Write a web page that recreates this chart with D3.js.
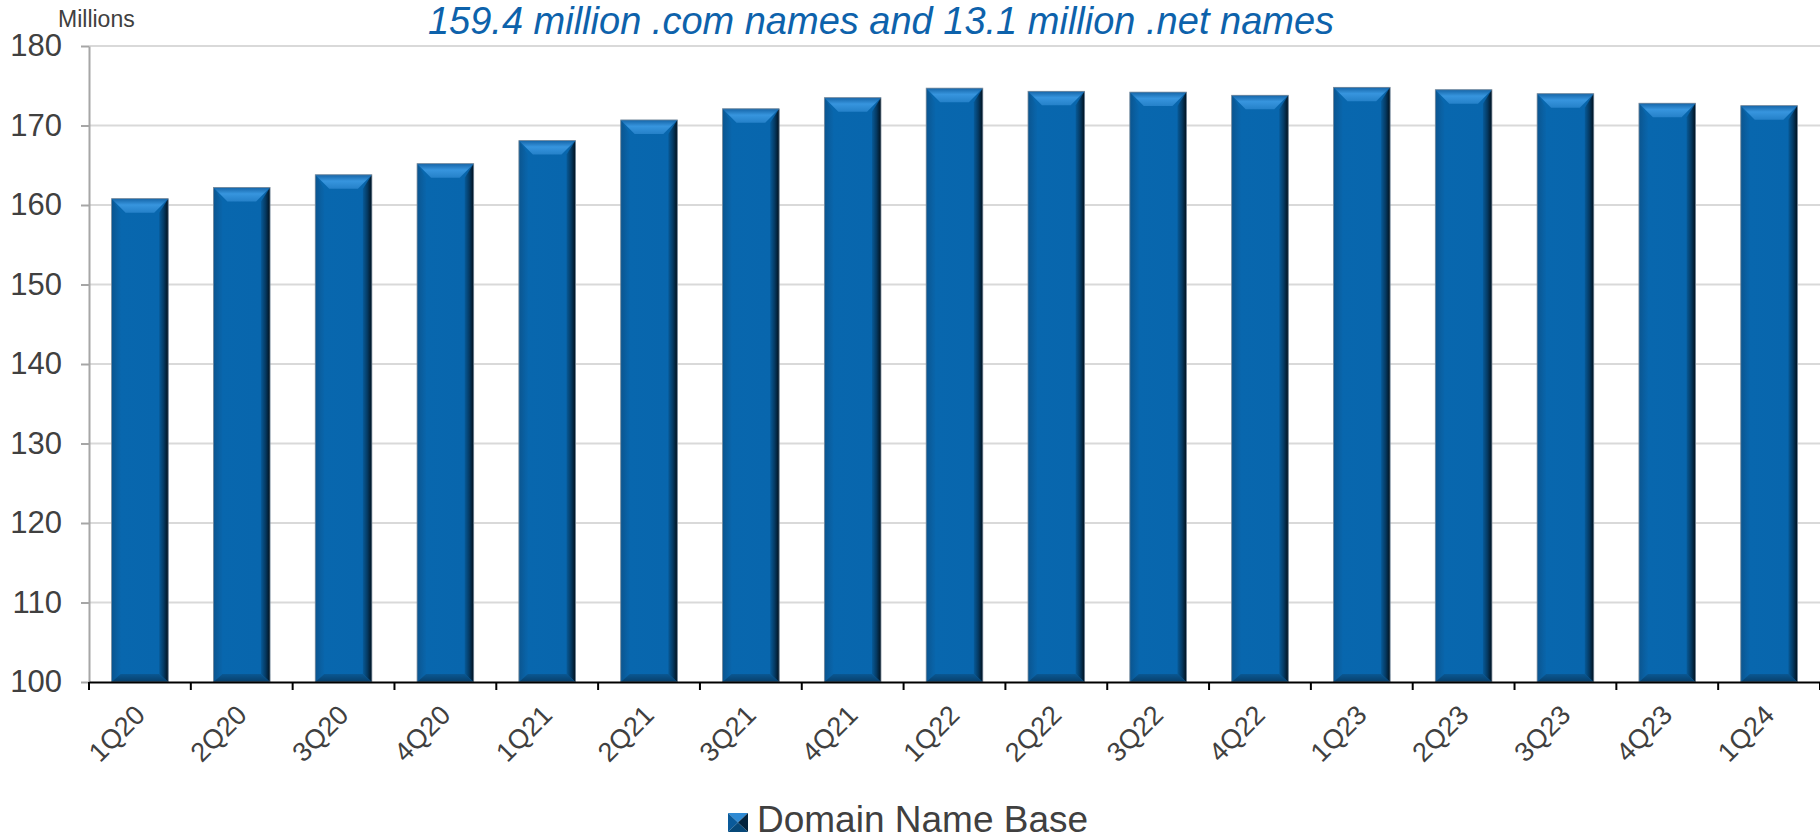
<!DOCTYPE html>
<html><head><meta charset="utf-8">
<script src="https://cdn.jsdelivr.net/npm/d3@7"></script>
<style>
html,body{margin:0;padding:0;background:#fff;overflow:hidden}
svg{display:block;font-family:"Liberation Sans",Arial,sans-serif}
</style></head>
<body><svg id="c" width="1820" height="840"></svg>
<script>
const categories = ["1Q20","2Q20","3Q20","4Q20","1Q21","2Q21","3Q21","4Q21","1Q22","2Q22","3Q22","4Q22","1Q23","2Q23","3Q23","4Q23","1Q24"];
const values = [160.8,162.2,163.8,165.2,168.1,170.7,172.1,173.5,174.7,174.3,174.2,173.8,174.8,174.5,174.0,172.8,172.5];
const yTicks = [100,110,120,130,140,150,160,170,180];
const seriesName = "Domain Name Base";
const titleText = "159.4 million .com names and 13.1 million .net names";
const unitText = "Millions";

const svg = d3.select("#c");
const defs = svg.append("defs");
function lg(id, x2, y2, stops){
  const g = defs.append("linearGradient").attr("id",id).attr("x1",0).attr("y1",0).attr("x2",x2).attr("y2",y2);
  stops.forEach(s=>g.append("stop").attr("offset",s[0]).attr("stop-color",s[1]));
}
lg("face",1,0,[[0,"#0a5e9f"],[0.12,"#0867ae"],[0.85,"#0866ad"],[1,"#07599a"]]);
lg("topB",0,1,[[0,"#1565a8"],[0.45,"#3795de"],[1,"#2581c9"]]);
lg("rightB",1,0,[[0,"#075a98"],[0.5,"#053a63"],[1,"#01101c"]]);
lg("leftB",1,0,[[0,"#0b4f85"],[1,"#0a64a9"]]);
lg("botB",0,1,[[0,"#0a5893"],[1,"#083f6a"]]);

const x = d3.scaleBand().domain(categories).range([89,1820]).paddingInner(0.444).paddingOuter(0.222);
const y = d3.scaleLinear().domain([100,180]).range([682,46]);

// gridlines
svg.append("g").selectAll("line").data(yTicks.filter(t=>t>100)).join("line")
  .attr("x1",89).attr("x2",1820).attr("y1",d=>y(d)).attr("y2",d=>y(d))
  .attr("stroke","#d9d9d9").attr("stroke-width",2);

// title
svg.append("text").attr("x",881).attr("y",34).attr("text-anchor","middle")
  .attr("font-size",38).attr("font-style","italic").attr("fill","#0d62ab").text(titleText);
svg.append("text").attr("x",58).attr("y",27).attr("font-size",23).attr("fill","#404040").text(unitText);

// bars
const bw = x.bandwidth();
const bars = svg.append("g").selectAll("g").data(categories.map((c,i)=>({c,v:values[i]}))).join("g");
bars.each(function(d){
  const g = d3.select(this);
  const x0 = x(d.c), x1 = x0 + bw, y0 = y(d.v), y1 = y(100);
  const bt = 14, bs = 9, bb = 8;
  g.append("rect").attr("x",x0).attr("y",y0).attr("width",bw).attr("height",y1-y0).attr("fill","url(#face)");
  g.append("polygon").attr("points",[[x0,y0],[x0+bs,y0+bt],[x0+bs,y1-bb],[x0,y1]].join(" ")).attr("fill","url(#leftB)").attr("opacity",0.6);
  g.append("polygon").attr("points",[[x1,y0],[x1-bs,y0+bt],[x1-bs,y1-bb],[x1,y1]].join(" ")).attr("fill","url(#rightB)");
  g.append("polygon").attr("points",[[x0,y1],[x0+bs,y1-bb],[x1-bs,y1-bb],[x1,y1]].join(" ")).attr("fill","url(#botB)");
  g.append("polygon").attr("points",[[x0,y0],[x1,y0],[x1-bt,y0+bt],[x0+bt,y0+bt]].join(" ")).attr("fill","url(#topB)");
  g.append("rect").attr("x",x0).attr("y",y0).attr("width",bw).attr("height",y1-y0).attr("fill","none").attr("stroke","#7d8c9b").attr("stroke-width",0.8);
});

// y axis
const ya = svg.append("g").attr("transform","translate(89,0)")
  .call(d3.axisLeft(y).tickValues(yTicks).tickSize(8).tickPadding(19).tickSizeOuter(0));
ya.select(".domain").attr("stroke","#a6a6a6").attr("stroke-width",2);
ya.selectAll(".tick line").attr("stroke","#a6a6a6").attr("stroke-width",2);
ya.selectAll(".tick text").attr("font-size",31).attr("fill","#404040").attr("font-family","Liberation Sans, Arial, sans-serif");

// x axis
const xa = svg.append("g").attr("transform","translate(0,682)")
  .call(d3.axisBottom(x).tickSize(0).tickPadding(0).tickSizeOuter(0));
xa.select(".domain").attr("stroke","#000").attr("stroke-width",2);
xa.selectAll(".tick text").attr("font-size",27).attr("fill","#404040")
  .attr("font-family","Liberation Sans, Arial, sans-serif")
  .attr("text-anchor","end").attr("dy","0.35em")
  .attr("transform","translate(0,28) rotate(-45)");
const bounds = categories.map(c=>x(c)+bw/2-x.step()/2).concat([x.range()[1]]);
xa.append("g").selectAll("line").data(bounds).join("line")
  .attr("x1",d=>d).attr("x2",d=>d).attr("y1",0).attr("y2",8).attr("stroke","#000").attr("stroke-width",2);

// legend
const lgd = svg.append("g").attr("transform","translate(728,813)");
const s = 20, h = 19;
lgd.append("polygon").attr("points",[[0,0],[s,0],[s/2,h/2]].join(" ")).attr("fill","#2f8ad3");
lgd.append("polygon").attr("points",[[0,0],[s/2,h/2],[0,h]].join(" ")).attr("fill","#0a5a9a");
lgd.append("polygon").attr("points",[[s,0],[s,h],[s/2,h/2]].join(" ")).attr("fill","#03233d");
lgd.append("polygon").attr("points",[[0,h],[s/2,h/2],[s,h]].join(" ")).attr("fill","#074878");
lgd.append("text").attr("x",29).attr("y",19).attr("font-size",37).attr("fill","#404040").text(seriesName);
</script></body></html>
